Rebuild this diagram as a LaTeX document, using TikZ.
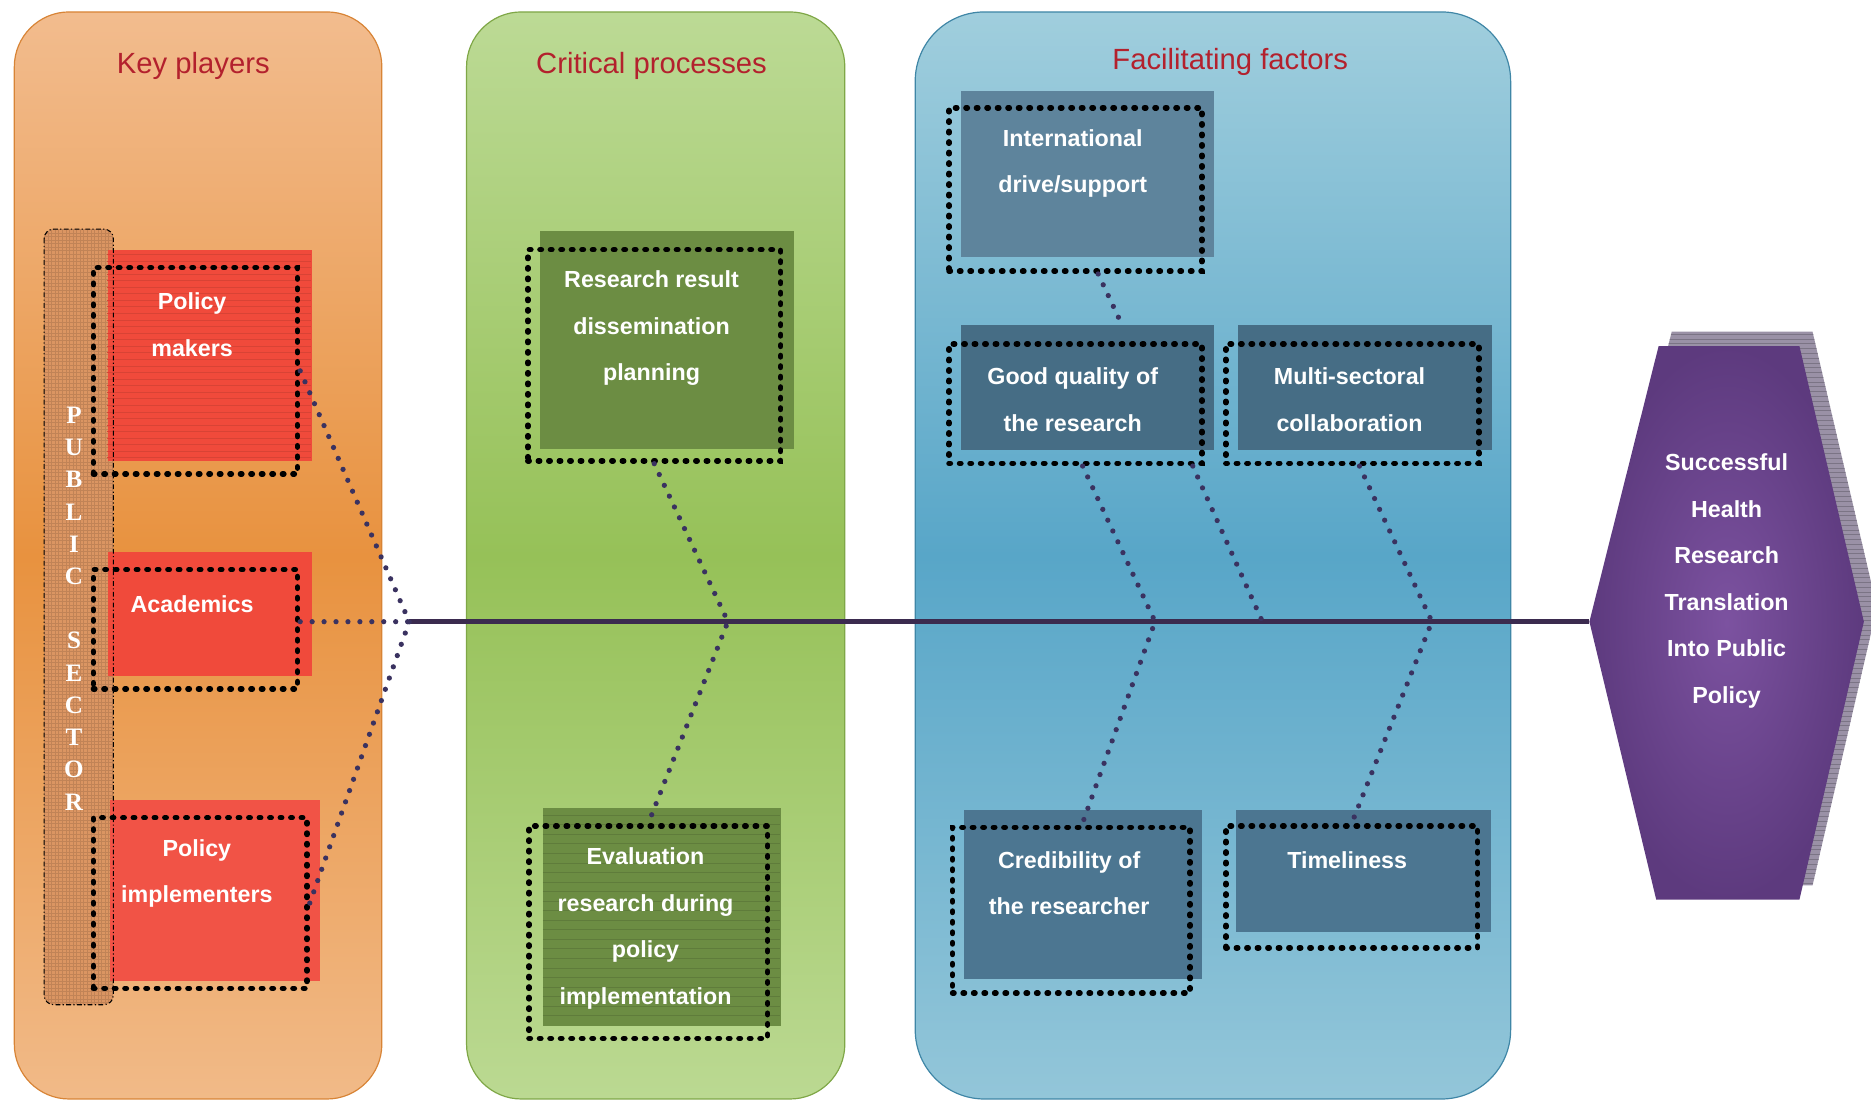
\documentclass[tikz,border=0pt]{standalone}
\usepackage{fontspec}
\setmainfont{Liberation Sans}
\newfontfamily\psfont{Liberation Serif}
\definecolor{orTop}{HTML}{F2BC8E}
\definecolor{orMid}{HTML}{E8923F}
\definecolor{orBot}{HTML}{F1BA88}
\definecolor{orEdge}{HTML}{D88436}
\definecolor{grTop}{HTML}{BCDA95}
\definecolor{grMid}{HTML}{96C158}
\definecolor{grBot}{HTML}{BBD992}
\definecolor{grEdge}{HTML}{7FA747}
\definecolor{blTop}{HTML}{A0CEDD}
\definecolor{blMid}{HTML}{58A6C8}
\definecolor{blBot}{HTML}{93C6D9}
\definecolor{blEdge}{HTML}{3F86A6}
\definecolor{titleRed}{HTML}{B3212D}
\definecolor{redBox}{HTML}{F04A3B}
\definecolor{greenBox}{HTML}{6C8D43}
\definecolor{blueBox}{HTML}{4C7691}
\definecolor{spineCol}{HTML}{3B2B4F}
\definecolor{connCol}{HTML}{3A3260}
\definecolor{hexA}{HTML}{5D3A7E}
\definecolor{hexB}{HTML}{7C52A0}
\definecolor{hexShadow}{HTML}{9A91A6}
\definecolor{psFill}{HTML}{DB9562}
\begin{document}
\begin{tikzpicture}[x=1pt,y=-1pt,
  panel/.style={rounded corners=46pt, line width=1pt},
  title/.style={text=titleRed, font=\fontsize{24.5}{28}\selectfont, inner sep=0pt},
  fillbox/.style={draw=none, anchor=north west, inner sep=0pt},
  dotbox/.style={draw=black, line width=4.6pt, line cap=round, dash pattern=on 1.2pt off 7.6pt, anchor=north west, inner sep=0pt},
  lbl/.style={text=white, font=\bfseries\fontsize{19.5}{39}\selectfont, align=center, inner sep=0pt},
  conn/.style={draw=connCol, line width=4.4pt, line cap=round, dash pattern=on 0pt off 10pt},
  spineline/.style={draw=spineCol, line width=4.4pt}]
\useasboundingbox (0,0) rectangle (1568,922);
% panels
\path[panel, top color=orTop, bottom color=orBot, middle color=orMid, draw=orEdge] (12,10) rectangle (320,921);
\path[panel, top color=grTop, bottom color=grBot, middle color=grMid, draw=grEdge] (391,10) rectangle (708,921);
\path[panel, rounded corners=58pt, top color=blTop, bottom color=blBot, middle color=blMid, draw=blEdge] (767,10) rectangle (1266,921);
% titles
\node[title] (tKP) at (162,55) {Key players};
\node[title] (tCP) at (546,55) {Critical processes};
\node[title] (tFF) at (1031,52) {Facilitating factors};
% public sector bar
\path[fill=psFill, rounded corners=8pt] (37,192) rectangle (95,842);
\begin{scope}
\clip[rounded corners=8pt] (37,192) rectangle (95,842);
\foreach \g in {0,3,...,650} {\draw[psFill!88!black, line width=0.2pt] (37,192+\g) -- (95,192+\g);}
\foreach \g in {0,3,...,58} {\draw[psFill!88!black, line width=0.2pt] (37+\g,192) -- (37+\g,842);}
\end{scope}
% fills
\node[fillbox, fill=redBox, minimum width=171pt, minimum height=177pt] (pmF) at (90,209) {};
\foreach \g in {4,9.5,...,176} {\draw[redBox!90!black, line width=0.3pt] (90,209+\g) -- (261,209+\g);}
\node[fillbox, fill=redBox, minimum width=171pt, minimum height=104pt] (acF) at (90,462) {};
\node[fillbox, fill=redBox!92!pink, minimum width=176pt, minimum height=152pt] (piF) at (92,670) {};
\node[fillbox, fill=greenBox, minimum width=213pt, minimum height=183pt] (rrF) at (452,193) {};
\node[fillbox, fill=greenBox, minimum width=199pt, minimum height=183pt] (evF) at (455,677) {};
\foreach \g in {6,14,...,180} {\draw[greenBox!88!black, line width=0.3pt] (455,677+\g) -- (654,677+\g);}
\node[fillbox, fill=blueBox!90!white, minimum width=212pt, minimum height=139pt] (intlF) at (805,76) {};
\node[fillbox, fill=blueBox!92!black, minimum width=212pt, minimum height=105pt] (gqF) at (805,272) {};
\node[fillbox, fill=blueBox!92!black, minimum width=213pt, minimum height=105pt] (mcF) at (1037,272) {};
\node[fillbox, fill=blueBox, minimum width=199pt, minimum height=141pt] (crF) at (808,679) {};
\node[fillbox, fill=blueBox, minimum width=213pt, minimum height=102pt] (tlF) at (1036,679) {};
% public sector border
\draw[black, line width=0.9pt, rounded corners=8pt, dash pattern=on 4pt off 2pt on 1pt off 2pt] (37,192) rectangle (95,842);
% dotted borders
\node[dotbox, minimum width=171pt, minimum height=173pt] (pm) at (76,222) {};
\node[dotbox, minimum width=171pt, minimum height=100pt] (ac) at (76,475) {};
\node[dotbox, minimum width=179pt, minimum height=143pt] (pi) at (76,683) {};
\node[dotbox, minimum width=212pt, minimum height=177pt] (rr) at (440,207) {};
\node[dotbox, minimum width=200pt, minimum height=178pt] (ev) at (441,690) {};
\node[dotbox, minimum width=212pt, minimum height=137pt] (intl) at (793,88) {};
\node[dotbox, minimum width=212pt, minimum height=100pt] (gq) at (793,286) {};
\node[dotbox, minimum width=212pt, minimum height=100pt] (mc) at (1025,286) {};
\node[dotbox, minimum width=199pt, minimum height=139pt] (cr) at (796,691) {};
\node[dotbox, minimum width=211pt, minimum height=102pt] (tl) at (1025,690) {};
% hexagon
\coordinate (hexL) at (1332,521);
\fill[hexShadow] (1343,509) -- (1401,278) -- (1519,278) -- (1573,509) -- (1519,742) -- (1399,742) -- cycle;
\begin{scope}
\clip (1343,509) -- (1401,278) -- (1519,278) -- (1573,509) -- (1519,742) -- (1399,742) -- cycle;
\foreach \g in {280,284,...,742} {\draw[hexShadow!80!black, line width=0.3pt] (1340,\g) -- (1575,\g);}
\end{scope}
\shade[inner color=hexB, outer color=hexA] (hexL) -- (1390,290) -- (1508,290) -- (1562,521) -- (1508,754) -- (1388,754) -- cycle;
% spine and connectors
\coordinate (sp0) at (343,521);
\coordinate (spA) at (610,521);
\coordinate (spB) at (968,521);
\coordinate (spC) at (1058,521);
\coordinate (spD) at (1200,521);
\draw[spineline] (sp0) -- (hexL);
\draw[conn] (pm.east) -- (sp0);
\draw[conn] (ac.east |- sp0) -- (sp0);
\draw[conn] (pi.east) -- (sp0);
\draw[conn] (rr.south) -- (spA) -- (ev.north);
\draw[conn] ([xshift=19pt]intl.south) -- ([xshift=29pt]gqF.north);
\draw[conn] ([xshift=6pt]gq.south) -- (spB) -- ([xshift=9pt]cr.north);
\draw[conn] ([xshift=-10pt]gq.south east) -- (spC);
\draw[conn] ([xshift=6pt]mc.south) -- (spD) -- (tl.north);
% labels
\node[lbl] (pmT) at (161,272) {Policy\\makers};
\node[lbl] (acT) at (161,506) {Academics};
\node[lbl] (piT) at (165,732) {Policy\\implementers};
\node[lbl] (rrT) at (546,275) {Research result\\dissemination\\planning};
\node[lbl] (evT) at (541,778) {Evaluation\\research during\\policy\\implementation};
\node[lbl] (intlT) at (899,137) {International\\drive/support};
\node[lbl] (gqT) at (899,335) {Good quality of\\the research};
\node[lbl] (mcT) at (1131,335) {Multi-sectoral\\collaboration};
\node[lbl] (crT) at (896,740) {Credibility of\\the researcher};
\node[lbl] (tlT) at (1129,721) {Timeliness};
\node[lbl] (hexT) at (1447,487) {Successful\\Health\\Research\\Translation\\Into Public\\Policy};
\node[text=white, font=\psfont\bfseries\fontsize{21}{27}\selectfont, align=center, inner sep=0pt] (ps) at (62,510) {P\\U\\B\\L\\I\\C\\[27pt]S\\E\\C\\T\\O\\R};
\end{tikzpicture}
\end{document}
